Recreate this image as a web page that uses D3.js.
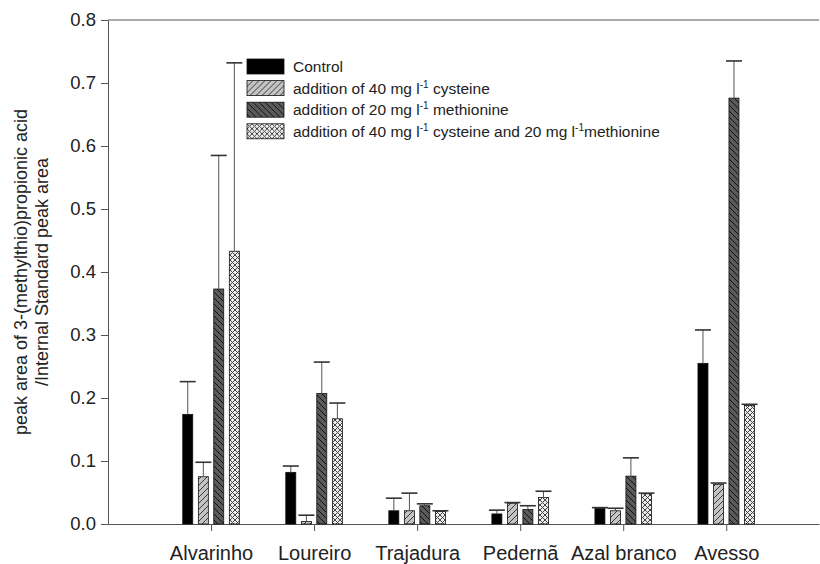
<!DOCTYPE html>
<html>
<head>
<meta charset="utf-8">
<script src="https://cdn.jsdelivr.net/npm/d3@7"></script>
<style>
  body { margin: 0; background: #fff; }
  svg text { font-family: "Liberation Sans", Arial, sans-serif; fill: #222; }
</style>
</head>
<body>
<div id="chart"></div>
<script>
// data
const categories = ["Alvarinho", "Loureiro", "Trajadura", "Pedernã", "Azal branco", "Avesso"];
const seriesNames = [
  "Control",
  "addition of 40 mg l^-1 cysteine",
  "addition of 20 mg l^-1 methionine",
  "addition of 40 mg l^-1 cysteine and 20 mg l^-1methionine"
];
const control       = [0.174, 0.082, 0.021, 0.016, 0.025, 0.255];
const controlErr    = [0.052, 0.010, 0.020, 0.006, 0.001, 0.053];
const cysteine      = [0.075, 0.004, 0.021, 0.033, 0.021, 0.063];
const cysteineErr   = [0.023, 0.010, 0.028, 0.001, 0.004, 0.002];
const methionine    = [0.373, 0.207, 0.029, 0.023, 0.076, 0.676];
const methionineErr = [0.212, 0.050, 0.003, 0.006, 0.029, 0.059];
const both          = [0.433, 0.167, 0.020, 0.042, 0.048, 0.188];
const bothErr       = [0.299, 0.025, 0.001, 0.010, 0.001, 0.002];
const yTicks = [0, 0.1, 0.2, 0.3, 0.4, 0.5, 0.6, 0.7, 0.8];

const values = [control, cysteine, methionine, both];
const errors = [controlErr, cysteineErr, methionineErr, bothErr];
const fills = ["#000", "url(#pCys)", "url(#pMet)", "url(#pBoth)"];

const W = 820, H = 564;
const mLeft = 108, mRight = 819, mTop = 20, mBottom = 524;

const svg = d3.select("#chart").append("svg")
  .attr("width", W).attr("height", H);

// hatch patterns
const defs = svg.append("defs");
function hatch(id, bg, stroke, dirs, size) {
  const p = defs.append("pattern").attr("id", id)
    .attr("patternUnits", "userSpaceOnUse")
    .attr("width", size).attr("height", size);
  p.append("rect").attr("width", size).attr("height", size).attr("fill", bg);
  dirs.forEach(d => {
    const path = d === "/"
      ? `M0,${size} L${size},0 M${-size/2},${size/2} L${size/2},${-size/2} M${size/2},${size*1.5} L${size*1.5},${size/2}`
      : `M0,0 L${size},${size} M${-size/2},${size/2} L${size/2},${size*1.5} M${size/2},${-size/2} L${size*1.5},${size/2}`;
    p.append("path").attr("d", path).attr("stroke", stroke).attr("stroke-width", 1);
  });
}
hatch("pCys", "#c4c4c4", "#3a3a3a", ["/"], 6);
hatch("pMet", "#5a5a5a", "#111", ["\\"], 6);
hatch("pBoth", "#ececec", "#444", ["/", "\\"], 5);

const x = d3.scaleLinear().domain([0, 6.9]).range([mLeft, mRight]);
const y = d3.scaleLinear().domain([0, 0.8]).range([mBottom, mTop]);
const offsets = [-23.3, -7.7, 7.7, 23.3];
const barW = 10;

// y axis
const yAxis = svg.append("g").attr("transform", `translate(${mLeft},0)`)
  .call(d3.axisLeft(y).tickValues(yTicks).tickFormat(d3.format(".1f")).tickSize(7).tickSizeOuter(0));
yAxis.select(".domain").attr("stroke", "#555");
yAxis.selectAll(".tick line").attr("stroke", "#555");
yAxis.selectAll(".tick text").attr("font-size", 18.5).attr("x", -12).attr("fill", "#222");

// top frame line
svg.append("line").attr("x1", mLeft).attr("x2", mRight).attr("y1", mTop).attr("y2", mTop)
  .attr("stroke", "#555");

// x axis
const xAxis = svg.append("g").attr("transform", `translate(0,${mBottom})`)
  .call(d3.axisBottom(x).tickValues(d3.range(1, 7)).tickFormat(i => categories[i - 1])
    .tickSize(7).tickSizeOuter(0));
xAxis.select(".domain").attr("stroke", "#555");
xAxis.selectAll(".tick line").attr("stroke", "#555");
xAxis.selectAll(".tick text").attr("font-size", 20).attr("y", 22).attr("fill", "#222");

// bars
values.forEach((vals, s) => {
  const g = svg.append("g");
  g.selectAll("rect").data(vals).enter().append("rect")
    .attr("x", (d, i) => x(i + 1) + offsets[s] - barW / 2)
    .attr("y", d => y(d))
    .attr("width", barW)
    .attr("height", d => y(0) - y(d))
    .attr("fill", fills[s])
    .attr("stroke", "#111").attr("stroke-width", 0.8);
  // error bars
  const e = svg.append("g");
  e.selectAll("line.v").data(vals).enter().append("line")
    .attr("x1", (d, i) => x(i + 1) + offsets[s]).attr("x2", (d, i) => x(i + 1) + offsets[s])
    .attr("y1", d => y(d)).attr("y2", (d, i) => y(d + errors[s][i]))
    .attr("stroke", "#555").attr("stroke-width", 1);
  e.selectAll("line.c").data(vals).enter().append("line")
    .attr("x1", (d, i) => x(i + 1) + offsets[s] - 8).attr("x2", (d, i) => x(i + 1) + offsets[s] + 8)
    .attr("y1", (d, i) => y(d + errors[s][i])).attr("y2", (d, i) => y(d + errors[s][i]))
    .attr("stroke", "#333").attr("stroke-width", 1.6);
});

// y label (two lines)
const yl = svg.append("text")
  .attr("transform", `translate(0,${(mTop + mBottom) / 2}) rotate(-90)`)
  .attr("text-anchor", "middle").attr("font-size", 18);
yl.append("tspan").attr("x", 0).attr("y", 27).text("peak area of 3-(methylthio)propionic acid");
yl.append("tspan").attr("x", 0).attr("y", 48).text("/Internal Standard peak area");

// legend
const leg = svg.append("g").attr("transform", "translate(247,59)");
seriesNames.forEach((name, i) => {
  const row = leg.append("g").attr("transform", `translate(0,${i * 21.6})`);
  row.append("rect").attr("width", 37).attr("height", 15)
    .attr("fill", fills[i]).attr("stroke", "#111").attr("stroke-width", 0.8);
  const t = row.append("text").attr("x", 46).attr("y", 13).attr("font-size", 15.5);
  name.split("^-1").forEach((part, k) => {
    if (k > 0) t.append("tspan").attr("font-size", 10).attr("dy", -6).text("-1");
    t.append("tspan").attr("dy", k > 0 ? 6 : 0).text(part);
  });
});
</script>
</body>
</html>
